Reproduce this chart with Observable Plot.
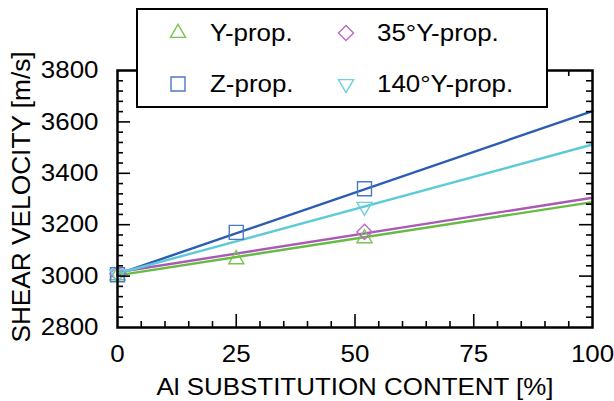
<!DOCTYPE html>
<html>
<head>
<meta charset="utf-8">
<script src="https://cdn.jsdelivr.net/npm/d3@7"></script>
<script src="https://cdn.jsdelivr.net/npm/@observablehq/plot@0.6"></script>
<style>
  body { margin: 0; background: #fff; }
  #wrap { position: relative; width: 614px; height: 401px; }
  #legend { position: absolute; left: 136px; top: 8px; }
  text { font-family: "Liberation Sans", Arial, Helvetica, sans-serif; }
</style>
</head>
<body>
<div id="wrap"></div>
<script>
// ---- data ----
const seriesNames = ["Y-prop.", "Z-prop.", "35°Y-prop.", "140°Y-prop."];
const seriesColors = ["#66bb44", "#2c5db3", "#aa5ab6", "#5ccad8"];
const markerColors = ["#77c452", "#4b78c6", "#b86cc4", "#6dd0dc"];
const seriesSymbols = ["triangle", "square", "diamond2", "triangle"];
const seriesRotate = [0, 0, 0, 180];
const seriesR = [5.6, 7.9, 6.8, 5.6];

// measured points
const yPropX = [0, 25, 52];   const yPropV = [3003, 3065, 3147];
const zPropX = [0, 25, 52];   const zPropV = [3005, 3170, 3340];
const y35X   = [0, 52];       const y35V   = [3009, 3172];
const y140X  = [0, 52];       const y140V  = [3008, 3270];

// fitted lines (values at 0 % and 100 %)
const fitX = [0, 100];
const yPropFit = [3003, 3288];
const zPropFit = [3008, 3642];
const y35Fit   = [3015, 3305];
const y140Fit  = [3010, 3512];

// axes
const xTicks = [0, 25, 50, 75, 100];
const yTicks = [2800, 3000, 3200, 3400, 3600, 3800];
const xMinorTicks = [5,10,15,20,30,35,40,45,55,60,65,70,80,85,90,95];
const xMajorTicks = [25, 50, 75];
const yMinorTicks = [2840,2880,2920,2960,3040,3080,3120,3160,3240,3280,3320,3360,3440,3480,3520,3560,3640,3680,3720,3760];
const yMajorTicks = [3000, 3200, 3400, 3600];
const xLabel = "Al SUBSTITUTION CONTENT [%]";
const yLabel = "SHEAR VELOCITY [m/s]";

// ---- build tables ----
const pointsX = [yPropX, zPropX, y35X, y140X];
const pointsV = [yPropV, zPropV, y35V, y140V];
const fits = [yPropFit, zPropFit, y35Fit, y140Fit];

const W = 614, H = 401;
const mT = 70, mR = 22, mB = 74, mL = 117;
const pw = W - mL - mR, ph = H - mT - mB;
const minorLen = 6, majorLen = 13;
const FS = 24, STRETCH = 1.08;

const marks = [];
fits.forEach((f, i) => {
  const rows = fitX.map((x, j) => ({x, v: f[j]}));
  marks.push(Plot.line(rows, {x: "x", y: "v", stroke: seriesColors[i], strokeWidth: 2.4}));
});
pointsX.forEach((xs, i) => {
  const rows = xs.map((x, j) => ({x, v: pointsV[i][j]}));
  marks.push(Plot.dot(rows, {
    x: "x", y: "v", symbol: seriesSymbols[i], rotate: seriesRotate[i],
    r: seriesR[i], stroke: markerColors[i], fill: "none", strokeWidth: 1.4
  }));
});
const tk = {stroke: "black", strokeWidth: 1.6};
marks.push(Plot.tickX(xMinorTicks, {x: d => d, insetTop: ph - minorLen, ...tk}));
marks.push(Plot.tickX(xMajorTicks, {x: d => d, insetTop: ph - majorLen, ...tk}));
marks.push(Plot.tickX(xMinorTicks, {x: d => d, insetBottom: ph - minorLen, ...tk}));
marks.push(Plot.tickX(xMajorTicks, {x: d => d, insetBottom: ph - majorLen, ...tk}));
marks.push(Plot.tickY(yMinorTicks, {y: d => d, insetRight: pw - minorLen, ...tk}));
marks.push(Plot.tickY(yMajorTicks, {y: d => d, insetRight: pw - majorLen, ...tk}));
marks.push(Plot.tickY(yMinorTicks, {y: d => d, insetLeft: pw - minorLen, ...tk}));
marks.push(Plot.tickY(yMajorTicks, {y: d => d, insetLeft: pw - majorLen, ...tk}));
marks.push(Plot.frame({stroke: "black", strokeWidth: 2.5}));
marks.push(Plot.axisX({ticks: xTicks, tickSize: 0, tickPadding: 17, label: null, tickFormat: d3.format("d")}));
marks.push(Plot.axisY({ticks: yTicks, tickSize: 0, tickPadding: 19, label: null, tickFormat: d3.format("d")}));
marks.push(Plot.text([xLabel], {text: d => d, frameAnchor: "bottom", dy: 60, lineAnchor: "middle", textAnchor: "middle", fill: "black"}));
marks.push(Plot.text([yLabel], {text: d => d, frameAnchor: "left", dx: -96, dy: -2, rotate: -90, lineAnchor: "middle", textAnchor: "middle", fill: "black"}));

const chart = Plot.plot({
  width: W, height: H,
  marginTop: mT, marginRight: mR, marginBottom: mB, marginLeft: mL,
  x: {domain: [0, 100]},
  y: {domain: [2800, 3800]},
  style: {fontFamily: '"Liberation Sans", Arial, Helvetica, sans-serif', fontSize: FS + "px", color: "black", background: "white", overflow: "visible"},
  marks
});
document.getElementById("wrap").appendChild(chart);

// typography: match the slightly wide lettering of the reference
function stretchText(sel, factor) {
  sel.each(function () {
    const L = this.getComputedTextLength();
    this.setAttribute("textLength", L * factor);
    this.setAttribute("lengthAdjust", "spacingAndGlyphs");
  });
}
d3.select(chart).selectAll("text").each(function () {
  const t = d3.select(this);
  if (t.text() === yLabel) {
    t.style("font-size", "25px");
    stretchText(t, 1.05);
  } else {
    t.style("font-size", FS + "px");
    stretchText(t, STRETCH);
  }
});

// ---- legend box (overlaid above the plot) ----
const LW = 412, LH = 100;
const leg = d3.select("#wrap").append("svg")
  .attr("id", "legend").attr("width", LW).attr("height", LH);
leg.append("rect").attr("x", 1).attr("y", 1).attr("width", LW - 2).attr("height", LH - 2)
  .attr("fill", "white").attr("stroke", "black").attr("stroke-width", 2);
const symMap = {triangle: d3.symbolTriangle, square: d3.symbolSquare, diamond2: d3.symbolDiamond2};
const legendOrder = [0, 2, 1, 3];
const colX = [42, 210], textX = [74, 241], rowY = [25, 76];
legendOrder.forEach((si, k) => {
  const c = k % 2, r = Math.floor(k / 2);
  const g = leg.append("g").attr("transform", `translate(${colX[c]},${rowY[r]})`);
  g.append("path")
    .attr("d", d3.symbol(symMap[seriesSymbols[si]], seriesR[si] * seriesR[si] * Math.PI)())
    .attr("transform", `rotate(${seriesRotate[si]})`)
    .attr("fill", "none").attr("stroke", markerColors[si]).attr("stroke-width", 1.4);
  const t = leg.append("text").attr("x", textX[c]).attr("y", rowY[r])
    .attr("dy", "0.35em").style("font-size", FS + "px").attr("fill", "black")
    .text(seriesNames[si]);
  stretchText(t, STRETCH);
});
</script>
</body>
</html>
